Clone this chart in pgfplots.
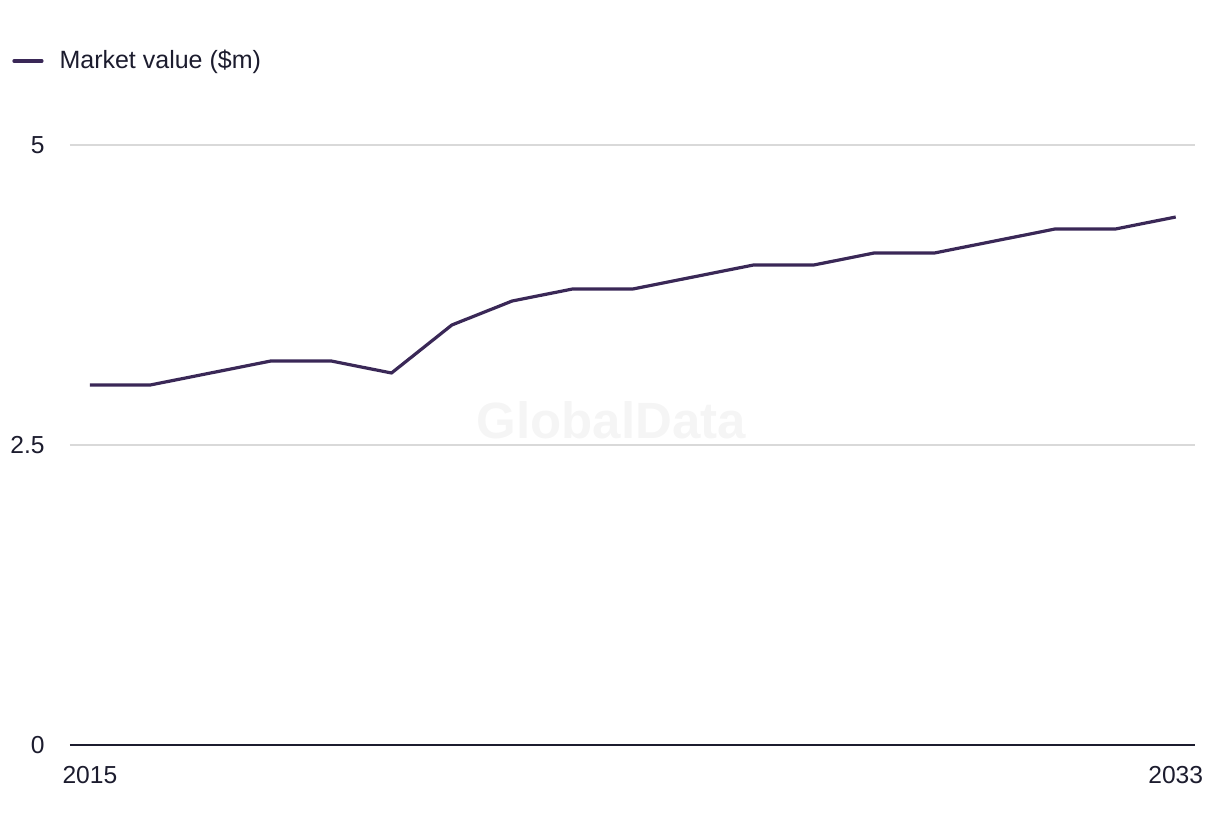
\documentclass[border=0pt]{standalone}
\usepackage{pgfplots}
\pgfplotsset{compat=1.18}
\usepackage{fontspec}
\setmainfont{Liberation Sans}
\definecolor{linec}{HTML}{3A2857}
\definecolor{txt}{HTML}{1C1C2E}
\definecolor{gridc}{HTML}{D9D9D9}
\definecolor{wm}{HTML}{F5F5F5}
\begin{document}
\begin{tikzpicture}
\begin{axis}[
  at={(0,0)}, anchor=south west,
  scale only axis,
  width=562.5pt, height=300pt,
  xmin=2014.67, xmax=2033.32,
  ymin=0, ymax=5,
  axis line style={draw=none},
  xtick={2015,2033},
  xticklabels={2015,2033},
  ytick={0,2.5,5},
  yticklabels={0,2.5,5},
  major tick length=0pt,
  ymajorgrids,
  grid style={gridc, line width=0.75pt},
  tick label style={font=\fontsize{12.3}{14}\selectfont, text=txt},
  yticklabel style={anchor=east, inner sep=0pt, xshift=-12.5pt},
  xticklabel style={anchor=north, inner sep=0pt, yshift=-10.5pt},
  /pgf/number format/assume math mode=true,
  clip=false,
  legend style={at={(axis description cs:-0.0516,1.14)}, anchor=west, draw=none, fill=none, inner sep=0pt,
    font=\fontsize{12.5}{14}\selectfont, text=txt},
  legend image code/.code={\draw[#1, line width=1.6pt, line cap=round] (0pt,0pt) -- (14pt,0pt);},
  legend cell align=left,
]
\node[font=\bfseries\fontsize{25.5}{30}\selectfont, text=wm] at (axis cs:2023.64,2.71) {GlobalData};
\draw[txt, line width=1pt] (axis cs:2014.67,0) -- (axis cs:2033.32,0);
\addplot[linec, line width=1.6pt, line join=round] coordinates {
(2015,3.0) (2016,3.0) (2017,3.1) (2018,3.2) (2019,3.2) (2020,3.1) (2021,3.5) (2022,3.7) (2023,3.8) (2024,3.8) (2025,3.9) (2026,4.0) (2027,4.0) (2028,4.1) (2029,4.1) (2030,4.2) (2031,4.3) (2032,4.3) (2033,4.4)};
\addlegendentry{\hspace{6pt}Market value (\$m)}
\end{axis}
\path[use as bounding box] (-35pt,-45.5pt) rectangle (575pt,372.5pt);
\end{tikzpicture}
\end{document}
